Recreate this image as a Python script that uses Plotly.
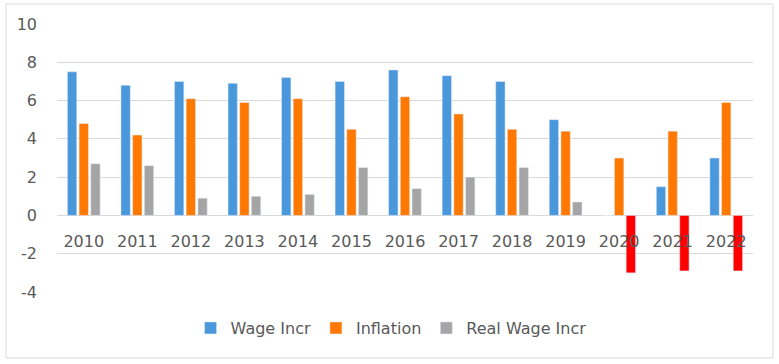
import plotly.graph_objects as go

years = ["2010", "2011", "2012", "2013", "2014", "2015", "2016",
         "2017", "2018", "2019", "2020", "2021", "2022"]
wage_incr = [7.5, 6.8, 7.0, 6.9, 7.2, 7.0, 7.6, 7.3, 7.0, 5.0, 0.0, 1.5, 3.0]
inflation = [4.8, 4.2, 6.1, 5.9, 6.1, 4.5, 6.2, 5.3, 4.5, 4.4, 3.0, 4.4, 5.9]
real_wage_incr = [2.7, 2.6, 0.9, 1.0, 1.1, 2.5, 1.4, 2.0, 2.5, 0.7, -3.0, -2.9, -2.9]
y_ticks = [-4, -2, 0, 2, 4, 6, 8, 10]
y_tick_text = ["-4", "-2", "0", "2", "4", "6", "8", "10"]

BLUE = "#4A98DC"
ORANGE = "#FF7800"
GRAY = "#A5A5A5"
RED = "#FF0000"
TXT = "#595959"
GRID = "#D9D9D9"
FONT = "DejaVu Sans"

real_colors = [GRAY if v >= 0 else RED for v in real_wage_incr]

fig = go.Figure()
fig.add_trace(go.Bar(name="Wage Incr", x=years, y=wage_incr, marker_color=BLUE))
fig.add_trace(go.Bar(name="Inflation", x=years, y=inflation, marker_color=ORANGE))
fig.add_trace(go.Bar(name="Real Wage Incr", x=years, y=real_wage_incr,
                     marker=dict(color=real_colors)))

ymin, ymax = -4, 10
L, R, T, B = 57, 26, 24, 72
W, H = 779, 364
pw, ph = W - L - R, H - T - B

fig.update_layout(
    width=W, height=H,
    margin=dict(l=L, r=R, t=T, b=B, autoexpand=False),
    paper_bgcolor="white", plot_bgcolor="white",
    barmode="group", bargap=0.345, bargroupgap=0.2,
    font=dict(family=FONT, size=16, color=TXT),
    showlegend=True,
    legend=dict(orientation="h", x=0.48, xanchor="center",
                y=(292 - 328) / ph, yanchor="middle",
                font=dict(family=FONT, size=16, color=TXT), itemwidth=30,
                traceorder="normal"),
    xaxis=dict(type="category", anchor="free",
               position=(0 - ymin) / (ymax - ymin),
               showgrid=False, showline=False,
               ticks="outside", ticklen=11, tickcolor="rgba(0,0,0,0)",
               tickfont=dict(family=FONT, size=16, color=TXT)),
    yaxis=dict(range=[ymin, ymax], tickvals=y_ticks, ticktext=y_tick_text,
               showgrid=True, gridcolor=GRID, gridwidth=1,
               zeroline=True, zerolinecolor=GRID, zerolinewidth=1,
               showline=False, ticks="", ticklabelstandoff=19,
               tickfont=dict(family=FONT, size=16, color=TXT)),
    shapes=[dict(type="rect", xref="paper", yref="paper",
                 x0=(6 - L) / pw, x1=(773 - L) / pw,
                 y0=(T + ph - 358) / ph, y1=(T + ph - 4) / ph,
                 line=dict(color=GRID, width=1), fillcolor="rgba(0,0,0,0)",
                 layer="below")],
)

fig.write_html("out.html", config={"displayModeBar": False},
               post_script="document.body.style.margin='0';")
